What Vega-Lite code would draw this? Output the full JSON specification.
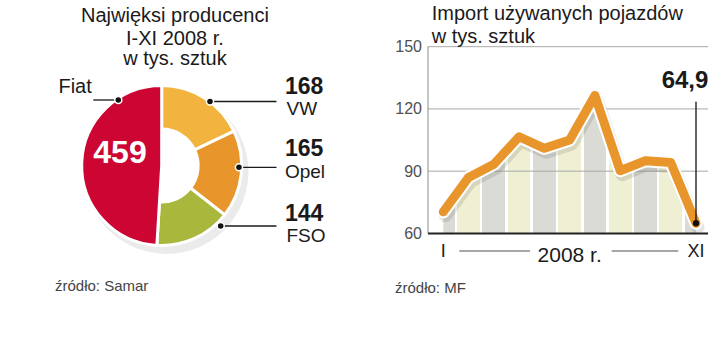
{
  "$schema": "https://vega.github.io/schema/vega-lite/v6.json",
  "padding": 0,
  "bounds": "flush",
  "spacing": 48,
  "config": {
    "view": {"stroke": null},
    "font": "Liberation Sans",
    "locale": {"number": {"decimal": ",", "thousands": "\u00a0", "grouping": [3], "currency": ["", " zł"]}}
  },
  "datasets": {
    "brands": [
      {"brand": "VW", "value": 168, "rank": 1},
      {"brand": "Opel", "value": 165, "rank": 2},
      {"brand": "FSO", "value": 144, "rank": 3},
      {"brand": "Fiat", "value": 459, "rank": 4}
    ],
    "imports": [
      {"month": 1, "label": "I", "value": 70.4},
      {"month": 2, "label": "II", "value": 87},
      {"month": 3, "label": "III", "value": 93.3},
      {"month": 4, "label": "IV", "value": 106.6},
      {"month": 5, "label": "V", "value": 101},
      {"month": 6, "label": "VI", "value": 105},
      {"month": 7, "label": "VII", "value": 126.5},
      {"month": 8, "label": "VIII", "value": 90.2},
      {"month": 9, "label": "IX", "value": 95},
      {"month": 10, "label": "X", "value": 94.2},
      {"month": 11, "label": "XI", "value": 64.9}
    ],
    "gridticks": [{"tick": 90}, {"tick": 120}, {"tick": 150}],
    "one": [{}]
  },
  "hconcat": [
    {
      "width": 380,
      "height": 358,
      "data": {"name": "brands"},
      "layer": [
        {
          "mark": {"type": "arc", "radius": 82, "color": "#000000", "opacity": 0.08},
          "encoding": {
            "x": {"datum": 0.06, "type": "quantitative", "scale": {"domain": [-2.021, 2.729], "nice": false, "zero": false}, "axis": null},
            "y": {"datum": -0.08, "type": "quantitative", "scale": {"domain": [-2.406, 2.069], "nice": false, "zero": false}, "axis": null},
            "theta": {"field": "value", "type": "quantitative", "stack": true},
            "order": {"field": "rank", "type": "quantitative"}
          }
        },
        {
          "mark": {"type": "arc", "radius": 80, "stroke": "#ffffff", "strokeWidth": 3},
          "encoding": {
            "x": {"datum": 0, "type": "quantitative", "scale": {"domain": [-2.021, 2.729], "nice": false, "zero": false}, "axis": null},
            "y": {"datum": 0, "type": "quantitative", "scale": {"domain": [-2.406, 2.069], "nice": false, "zero": false}, "axis": null},
            "theta": {"field": "value", "type": "quantitative", "stack": true},
            "order": {"field": "rank", "type": "quantitative"},
            "color": {"field": "brand", "type": "nominal", "scale": {"domain": ["VW", "Opel", "FSO", "Fiat"], "range": ["#f2b43e", "#e8952b", "#a9b83c", "#cc0533"]}, "legend": null}
          }
        },
        {
          "mark": {"type": "arc", "radius": 38, "color": "#ffffff"},
          "encoding": {
            "x": {"datum": 0, "type": "quantitative", "scale": {"domain": [-2.021, 2.729], "nice": false, "zero": false}, "axis": null},
            "y": {"datum": 0, "type": "quantitative", "scale": {"domain": [-2.406, 2.069], "nice": false, "zero": false}, "axis": null},
            "theta": {"field": "value", "type": "quantitative", "stack": true},
            "order": {"field": "rank", "type": "quantitative"},
            "opacity": {"condition": {"test": "datum.brand === 'Fiat'", "value": 0}, "value": 1}
          }
        },
        {
          "transform": [{"filter": "datum.brand === 'Fiat'"}],
          "layer": [
            {
              "mark": {"type": "text", "align": "center", "baseline": "alphabetic", "fontSize": 32, "fontWeight": "bold", "color": "#ffffff"},
              "encoding": {
                "x": {"datum": -0.521, "type": "quantitative", "scale": {"domain": [-2.021, 2.729], "nice": false, "zero": false}, "axis": null},
                "y": {"datum": 0.0275, "type": "quantitative", "scale": {"domain": [-2.406, 2.069], "nice": false, "zero": false}, "axis": null},
                "text": {"field": "value", "type": "quantitative"}
              }
            },
            {
              "mark": {"type": "rule", "color": "#1a1a1a", "strokeWidth": 1.3},
              "encoding": {
                "x": {"datum": -0.855, "type": "quantitative", "scale": {"domain": [-2.021, 2.729], "nice": false, "zero": false}, "axis": null},
                "x2": {"datum": -0.5425},
                "y": {"datum": 0.819, "type": "quantitative", "scale": {"domain": [-2.406, 2.069], "nice": false, "zero": false}, "axis": null}
              }
            },
            {
              "mark": {"type": "point", "fill": "#111111", "stroke": "#ffffff", "strokeWidth": 1.5, "size": 50, "opacity": 1},
              "encoding": {
                "x": {"datum": -0.5425, "type": "quantitative", "scale": {"domain": [-2.021, 2.729], "nice": false, "zero": false}, "axis": null},
                "y": {"datum": 0.819, "type": "quantitative", "scale": {"domain": [-2.406, 2.069], "nice": false, "zero": false}, "axis": null}
              }
            },
            {
              "mark": {"type": "text", "align": "right", "baseline": "alphabetic", "fontSize": 20, "color": "#1a1a1a"},
              "encoding": {
                "x": {"datum": -0.874, "type": "quantitative", "scale": {"domain": [-2.021, 2.729], "nice": false, "zero": false}, "axis": null},
                "y": {"datum": 0.9025, "type": "quantitative", "scale": {"domain": [-2.406, 2.069], "nice": false, "zero": false}, "axis": null},
                "text": {"field": "brand", "type": "nominal"}
              }
            }
          ]
        },
        {
          "transform": [{"filter": "datum.brand === 'VW'"}],
          "layer": [
            {
              "mark": {"type": "rule", "color": "#1a1a1a", "strokeWidth": 1.3},
              "encoding": {
                "x": {"datum": 0.604, "type": "quantitative", "scale": {"domain": [-2.021, 2.729], "nice": false, "zero": false}, "axis": null},
                "x2": {"datum": 1.435},
                "y": {"datum": 0.8, "type": "quantitative", "scale": {"domain": [-2.406, 2.069], "nice": false, "zero": false}, "axis": null}
              }
            },
            {
              "mark": {"type": "point", "fill": "#111111", "stroke": "#ffffff", "strokeWidth": 1.5, "size": 50, "opacity": 1},
              "encoding": {
                "x": {"datum": 0.604, "type": "quantitative", "scale": {"domain": [-2.021, 2.729], "nice": false, "zero": false}, "axis": null},
                "y": {"datum": 0.8, "type": "quantitative", "scale": {"domain": [-2.406, 2.069], "nice": false, "zero": false}, "axis": null}
              }
            },
            {
              "mark": {"type": "text", "align": "left", "baseline": "alphabetic", "fontSize": 23, "fontWeight": "bold", "color": "#1a1a1a"},
              "encoding": {
                "x": {"datum": 1.541, "type": "quantitative", "scale": {"domain": [-2.021, 2.729], "nice": false, "zero": false}, "axis": null},
                "y": {"datum": 0.895, "type": "quantitative", "scale": {"domain": [-2.406, 2.069], "nice": false, "zero": false}, "axis": null},
                "text": {"field": "value", "type": "quantitative"}
              }
            },
            {
              "mark": {"type": "text", "align": "left", "baseline": "alphabetic", "fontSize": 19, "color": "#1a1a1a"},
              "encoding": {
                "x": {"datum": 1.56, "type": "quantitative", "scale": {"domain": [-2.021, 2.729], "nice": false, "zero": false}, "axis": null},
                "y": {"datum": 0.632, "type": "quantitative", "scale": {"domain": [-2.406, 2.069], "nice": false, "zero": false}, "axis": null},
                "text": {"field": "brand", "type": "nominal"}
              }
            }
          ]
        },
        {
          "transform": [{"filter": "datum.brand === 'Opel'"}],
          "layer": [
            {
              "mark": {"type": "rule", "color": "#1a1a1a", "strokeWidth": 1.3},
              "encoding": {
                "x": {"datum": 0.966, "type": "quantitative", "scale": {"domain": [-2.021, 2.729], "nice": false, "zero": false}, "axis": null},
                "x2": {"datum": 1.435},
                "y": {"datum": -0.0225, "type": "quantitative", "scale": {"domain": [-2.406, 2.069], "nice": false, "zero": false}, "axis": null}
              }
            },
            {
              "mark": {"type": "point", "fill": "#111111", "stroke": "#ffffff", "strokeWidth": 1.5, "size": 50, "opacity": 1},
              "encoding": {
                "x": {"datum": 0.966, "type": "quantitative", "scale": {"domain": [-2.021, 2.729], "nice": false, "zero": false}, "axis": null},
                "y": {"datum": -0.0225, "type": "quantitative", "scale": {"domain": [-2.406, 2.069], "nice": false, "zero": false}, "axis": null}
              }
            },
            {
              "mark": {"type": "text", "align": "left", "baseline": "alphabetic", "fontSize": 23, "fontWeight": "bold", "color": "#1a1a1a"},
              "encoding": {
                "x": {"datum": 1.541, "type": "quantitative", "scale": {"domain": [-2.021, 2.729], "nice": false, "zero": false}, "axis": null},
                "y": {"datum": 0.122, "type": "quantitative", "scale": {"domain": [-2.406, 2.069], "nice": false, "zero": false}, "axis": null},
                "text": {"field": "value", "type": "quantitative"}
              }
            },
            {
              "mark": {"type": "text", "align": "left", "baseline": "alphabetic", "fontSize": 19, "color": "#1a1a1a"},
              "encoding": {
                "x": {"datum": 1.541, "type": "quantitative", "scale": {"domain": [-2.021, 2.729], "nice": false, "zero": false}, "axis": null},
                "y": {"datum": -0.158, "type": "quantitative", "scale": {"domain": [-2.406, 2.069], "nice": false, "zero": false}, "axis": null},
                "text": {"field": "brand", "type": "nominal"}
              }
            }
          ]
        },
        {
          "transform": [{"filter": "datum.brand === 'FSO'"}],
          "layer": [
            {
              "mark": {"type": "rule", "color": "#1a1a1a", "strokeWidth": 1.3},
              "encoding": {
                "x": {"datum": 0.7375, "type": "quantitative", "scale": {"domain": [-2.021, 2.729], "nice": false, "zero": false}, "axis": null},
                "x2": {"datum": 1.435},
                "y": {"datum": -0.756, "type": "quantitative", "scale": {"domain": [-2.406, 2.069], "nice": false, "zero": false}, "axis": null}
              }
            },
            {
              "mark": {"type": "point", "fill": "#111111", "stroke": "#ffffff", "strokeWidth": 1.5, "size": 50, "opacity": 1},
              "encoding": {
                "x": {"datum": 0.7375, "type": "quantitative", "scale": {"domain": [-2.021, 2.729], "nice": false, "zero": false}, "axis": null},
                "y": {"datum": -0.756, "type": "quantitative", "scale": {"domain": [-2.406, 2.069], "nice": false, "zero": false}, "axis": null}
              }
            },
            {
              "mark": {"type": "text", "align": "left", "baseline": "alphabetic", "fontSize": 23, "fontWeight": "bold", "color": "#1a1a1a"},
              "encoding": {
                "x": {"datum": 1.541, "type": "quantitative", "scale": {"domain": [-2.021, 2.729], "nice": false, "zero": false}, "axis": null},
                "y": {"datum": -0.688, "type": "quantitative", "scale": {"domain": [-2.406, 2.069], "nice": false, "zero": false}, "axis": null},
                "text": {"field": "value", "type": "quantitative"}
              }
            },
            {
              "mark": {"type": "text", "align": "left", "baseline": "alphabetic", "fontSize": 19, "color": "#1a1a1a"},
              "encoding": {
                "x": {"datum": 1.56, "type": "quantitative", "scale": {"domain": [-2.021, 2.729], "nice": false, "zero": false}, "axis": null},
                "y": {"datum": -0.96, "type": "quantitative", "scale": {"domain": [-2.406, 2.069], "nice": false, "zero": false}, "axis": null},
                "text": {"field": "brand", "type": "nominal"}
              }
            }
          ]
        },
        {
          "data": {"name": "one"},
          "mark": {"type": "text", "align": "center", "baseline": "alphabetic", "fontSize": 20, "color": "#1a1a1a", "text": "Najwięksi producenci"},
          "encoding": {
            "x": {"datum": 0.166, "type": "quantitative", "scale": {"domain": [-2.021, 2.729], "nice": false, "zero": false}, "axis": null},
            "y": {"datum": 1.8, "type": "quantitative", "scale": {"domain": [-2.406, 2.069], "nice": false, "zero": false}, "axis": null}
          }
        },
        {
          "data": {"name": "one"},
          "mark": {"type": "text", "align": "center", "baseline": "alphabetic", "fontSize": 20, "color": "#1a1a1a", "text": "I-XI 2008 r."},
          "encoding": {
            "x": {"datum": 0.166, "type": "quantitative", "scale": {"domain": [-2.021, 2.729], "nice": false, "zero": false}, "axis": null},
            "y": {"datum": 1.509, "type": "quantitative", "scale": {"domain": [-2.406, 2.069], "nice": false, "zero": false}, "axis": null}
          }
        },
        {
          "data": {"name": "one"},
          "mark": {"type": "text", "align": "center", "baseline": "alphabetic", "fontSize": 20, "color": "#1a1a1a", "text": "w tys. sztuk"},
          "encoding": {
            "x": {"datum": 0.166, "type": "quantitative", "scale": {"domain": [-2.021, 2.729], "nice": false, "zero": false}, "axis": null},
            "y": {"datum": 1.256, "type": "quantitative", "scale": {"domain": [-2.406, 2.069], "nice": false, "zero": false}, "axis": null}
          }
        },
        {
          "data": {"name": "one"},
          "mark": {"type": "text", "align": "left", "baseline": "alphabetic", "fontSize": 15, "color": "#444444", "text": "źródło: Samar"},
          "encoding": {
            "x": {"datum": -1.334, "type": "quantitative", "scale": {"domain": [-2.021, 2.729], "nice": false, "zero": false}, "axis": null},
            "y": {"datum": -1.57, "type": "quantitative", "scale": {"domain": [-2.406, 2.069], "nice": false, "zero": false}, "axis": null}
          }
        }
      ]
    },
    {
      "width": 280,
      "height": 358,
      "data": {"name": "imports"},
      "layer": [
        {
          "mark": {
            "type": "area",
            "color": {
              "gradient": "linear", "x1": 0, "y1": 0, "x2": 1, "y2": 0,
              "stops": [
                {"offset": 0, "color": "#dbdbd5"},
                {"offset": 0.045, "color": "#dbdbd5"}, {"offset": 0.045, "color": "#ffffff"}, {"offset": 0.055, "color": "#ffffff"}, {"offset": 0.055, "color": "#efefd3"},
                {"offset": 0.145, "color": "#efefd3"}, {"offset": 0.145, "color": "#ffffff"}, {"offset": 0.155, "color": "#ffffff"}, {"offset": 0.155, "color": "#dbdbd5"},
                {"offset": 0.245, "color": "#dbdbd5"}, {"offset": 0.245, "color": "#ffffff"}, {"offset": 0.255, "color": "#ffffff"}, {"offset": 0.255, "color": "#efefd3"},
                {"offset": 0.345, "color": "#efefd3"}, {"offset": 0.345, "color": "#ffffff"}, {"offset": 0.355, "color": "#ffffff"}, {"offset": 0.355, "color": "#dbdbd5"},
                {"offset": 0.445, "color": "#dbdbd5"}, {"offset": 0.445, "color": "#ffffff"}, {"offset": 0.455, "color": "#ffffff"}, {"offset": 0.455, "color": "#efefd3"},
                {"offset": 0.545, "color": "#efefd3"}, {"offset": 0.545, "color": "#ffffff"}, {"offset": 0.555, "color": "#ffffff"}, {"offset": 0.555, "color": "#dbdbd5"},
                {"offset": 0.645, "color": "#dbdbd5"}, {"offset": 0.645, "color": "#ffffff"}, {"offset": 0.655, "color": "#ffffff"}, {"offset": 0.655, "color": "#efefd3"},
                {"offset": 0.745, "color": "#efefd3"}, {"offset": 0.745, "color": "#ffffff"}, {"offset": 0.755, "color": "#ffffff"}, {"offset": 0.755, "color": "#dbdbd5"},
                {"offset": 0.845, "color": "#dbdbd5"}, {"offset": 0.845, "color": "#ffffff"}, {"offset": 0.855, "color": "#ffffff"}, {"offset": 0.855, "color": "#efefd3"},
                {"offset": 0.945, "color": "#efefd3"}, {"offset": 0.945, "color": "#ffffff"}, {"offset": 0.955, "color": "#ffffff"}, {"offset": 0.955, "color": "#dbdbd5"},
                {"offset": 1, "color": "#dbdbd5"}
              ]
            }
          },
          "encoding": {
            "x": {"field": "month", "type": "quantitative", "scale": {"domain": [0.3945, 11.475], "nice": false, "zero": false}, "axis": null},
            "y": {
              "field": "value", "type": "quantitative",
              "scale": {"domain": [-0.07, 172.51], "nice": false, "zero": false},
              "axis": {"values": [60, 90, 120, 150], "grid": false, "domain": false, "ticks": false, "tickSize": 0, "labelPadding": 6.5, "labelFontSize": 16, "labelColor": "#505050", "labelFont": "Liberation Sans", "title": null}
            },
            "y2": {"datum": 60}
          }
        },
        {
          "data": {"name": "gridticks"},
          "mark": {"type": "rule", "color": "#a8a8a8", "strokeWidth": 1},
          "encoding": {
            "x": {"datum": 0.3945, "type": "quantitative", "scale": {"domain": [0.3945, 11.475], "nice": false, "zero": false}, "axis": null},
            "x2": {"datum": 11.475},
            "y": {"field": "tick", "type": "quantitative", "scale": {"domain": [-0.07, 172.51], "nice": false, "zero": false}}
          }
        },
        {
          "mark": {"type": "line", "color": "#000000", "opacity": 0.1, "strokeWidth": 13, "strokeJoin": "round", "strokeCap": "round", "xOffset": 2, "yOffset": 4},
          "encoding": {
            "x": {"field": "month", "type": "quantitative", "scale": {"domain": [0.3945, 11.475], "nice": false, "zero": false}, "axis": null},
            "y": {"field": "value", "type": "quantitative", "scale": {"domain": [-0.07, 172.51], "nice": false, "zero": false}}
          }
        },
        {
          "mark": {"type": "line", "color": "#ffffff", "strokeWidth": 13, "strokeJoin": "round", "strokeCap": "round"},
          "encoding": {
            "x": {"field": "month", "type": "quantitative", "scale": {"domain": [0.3945, 11.475], "nice": false, "zero": false}, "axis": null},
            "y": {"field": "value", "type": "quantitative", "scale": {"domain": [-0.07, 172.51], "nice": false, "zero": false}}
          }
        },
        {
          "mark": {"type": "line", "color": "#e8952b", "strokeWidth": 9, "strokeJoin": "round", "strokeCap": "round"},
          "encoding": {
            "x": {"field": "month", "type": "quantitative", "scale": {"domain": [0.3945, 11.475], "nice": false, "zero": false}, "axis": null},
            "y": {"field": "value", "type": "quantitative", "scale": {"domain": [-0.07, 172.51], "nice": false, "zero": false}}
          }
        },
        {
          "data": {"name": "one"},
          "mark": {"type": "rule", "color": "#8a8a8a", "strokeWidth": 1},
          "encoding": {
            "x": {"datum": 0.3945, "type": "quantitative", "scale": {"domain": [0.3945, 11.475], "nice": false, "zero": false}, "axis": null},
            "y": {"datum": 60, "type": "quantitative", "scale": {"domain": [-0.07, 172.51], "nice": false, "zero": false}},
            "y2": {"datum": 150}
          }
        },
        {
          "data": {"name": "one"},
          "mark": {"type": "rule", "color": "#222222", "strokeWidth": 2},
          "encoding": {
            "x": {"datum": 0.3945, "type": "quantitative", "scale": {"domain": [0.3945, 11.475], "nice": false, "zero": false}, "axis": null},
            "x2": {"datum": 11.475},
            "y": {"datum": 60, "type": "quantitative", "scale": {"domain": [-0.07, 172.51], "nice": false, "zero": false}}
          }
        },
        {
          "transform": [{"filter": "datum.month === 11"}],
          "layer": [
            {
              "mark": {"type": "rule", "color": "#111111", "strokeWidth": 1.3},
              "encoding": {
                "x": {"field": "month", "type": "quantitative", "scale": {"domain": [0.3945, 11.475], "nice": false, "zero": false}, "axis": null},
                "y": {"field": "value", "type": "quantitative", "scale": {"domain": [-0.07, 172.51], "nice": false, "zero": false}},
                "y2": {"datum": 123.5}
              }
            },
            {
              "mark": {"type": "point", "fill": "#111111", "strokeWidth": 0, "size": 40, "opacity": 1},
              "encoding": {
                "x": {"field": "month", "type": "quantitative", "scale": {"domain": [0.3945, 11.475], "nice": false, "zero": false}, "axis": null},
                "y": {"field": "value", "type": "quantitative", "scale": {"domain": [-0.07, 172.51], "nice": false, "zero": false}}
              }
            },
            {
              "mark": {"type": "text", "align": "center", "baseline": "alphabetic", "fontSize": 24, "fontWeight": "bold", "color": "#1a1a1a", "dx": -11},
              "encoding": {
                "x": {"field": "month", "type": "quantitative", "scale": {"domain": [0.3945, 11.475], "nice": false, "zero": false}, "axis": null},
                "y": {"datum": 129.95, "type": "quantitative", "scale": {"domain": [-0.07, 172.51], "nice": false, "zero": false}},
                "text": {"field": "value", "type": "quantitative", "format": ".1f"}
              }
            }
          ]
        },
        {
          "transform": [{"filter": "datum.month === 1 || datum.month === 11"}],
          "mark": {"type": "text", "align": "center", "baseline": "alphabetic", "fontSize": 18, "color": "#1a1a1a"},
          "encoding": {
            "x": {"field": "month", "type": "quantitative", "scale": {"domain": [0.3945, 11.475], "nice": false, "zero": false}, "axis": null},
            "y": {"datum": 48.4, "type": "quantitative", "scale": {"domain": [-0.07, 172.51], "nice": false, "zero": false}},
            "text": {"field": "label", "type": "nominal"}
          }
        },
        {
          "data": {"name": "one"},
          "mark": {"type": "text", "align": "center", "baseline": "alphabetic", "fontSize": 21, "color": "#1a1a1a", "text": "2008 r."},
          "encoding": {
            "x": {"datum": 6, "type": "quantitative", "scale": {"domain": [0.3945, 11.475], "nice": false, "zero": false}, "axis": null},
            "y": {"datum": 46.36, "type": "quantitative", "scale": {"domain": [-0.07, 172.51], "nice": false, "zero": false}}
          }
        },
        {
          "data": {"name": "one"},
          "mark": {"type": "rule", "color": "#8a8a8a", "strokeWidth": 1.5},
          "encoding": {
            "x": {"datum": 1.633, "type": "quantitative", "scale": {"domain": [0.3945, 11.475], "nice": false, "zero": false}, "axis": null},
            "x2": {"datum": 4.431},
            "y": {"datum": 51.5, "type": "quantitative", "scale": {"domain": [-0.07, 172.51], "nice": false, "zero": false}}
          }
        },
        {
          "data": {"name": "one"},
          "mark": {"type": "rule", "color": "#8a8a8a", "strokeWidth": 1.5},
          "encoding": {
            "x": {"datum": 7.664, "type": "quantitative", "scale": {"domain": [0.3945, 11.475], "nice": false, "zero": false}, "axis": null},
            "x2": {"datum": 10.3},
            "y": {"datum": 51.5, "type": "quantitative", "scale": {"domain": [-0.07, 172.51], "nice": false, "zero": false}}
          }
        },
        {
          "data": {"name": "one"},
          "mark": {"type": "text", "align": "left", "baseline": "alphabetic", "fontSize": 20, "color": "#1a1a1a", "text": "Import używanych pojazdów"},
          "encoding": {
            "x": {"datum": 0.541, "type": "quantitative", "scale": {"domain": [0.3945, 11.475], "nice": false, "zero": false}, "axis": null},
            "y": {"datum": 162.87, "type": "quantitative", "scale": {"domain": [-0.07, 172.51], "nice": false, "zero": false}}
          }
        },
        {
          "data": {"name": "one"},
          "mark": {"type": "text", "align": "left", "baseline": "alphabetic", "fontSize": 20, "color": "#1a1a1a", "text": "w tys. sztuk"},
          "encoding": {
            "x": {"datum": 0.541, "type": "quantitative", "scale": {"domain": [0.3945, 11.475], "nice": false, "zero": false}, "axis": null},
            "y": {"datum": 151.64, "type": "quantitative", "scale": {"domain": [-0.07, 172.51], "nice": false, "zero": false}}
          }
        },
        {
          "data": {"name": "one"},
          "mark": {"type": "text", "align": "left", "baseline": "alphabetic", "fontSize": 15, "color": "#444444", "text": "źródło: MF"},
          "encoding": {
            "x": {"datum": -0.911, "type": "quantitative", "scale": {"domain": [0.3945, 11.475], "nice": false, "zero": false}, "axis": null},
            "y": {"datum": 31.5, "type": "quantitative", "scale": {"domain": [-0.07, 172.51], "nice": false, "zero": false}}
          }
        }
      ]
    }
  ]
}
